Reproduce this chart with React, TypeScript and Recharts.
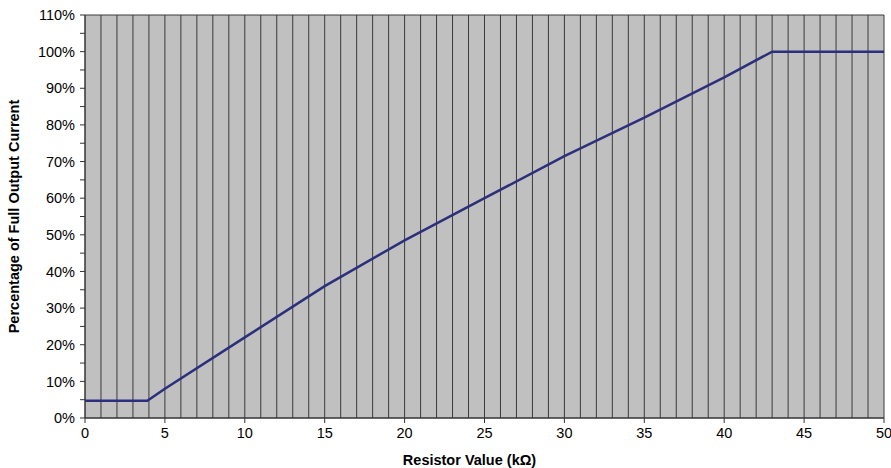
import { LineChart, Line, XAxis, YAxis, CartesianGrid } from "recharts";

// resistor value (kΩ) vs percentage of full output current
const resistance = [0, 3.9, 5, 10, 15, 20, 25, 30, 35, 40, 43, 50];
const currentPct = [4.7, 4.7, 8, 22, 36, 48.5, 60, 71.5, 82, 93, 100, 100];

const xTicks = [0, 5, 10, 15, 20, 25, 30, 35, 40, 45, 50];
const xGridTicks = Array.from({ length: 51 }, (_, i) => i);
const yTicks = [0, 5, 10, 15, 20, 25, 30, 35, 40, 45, 50, 55, 60, 65, 70, 75, 80, 85, 90, 95, 100, 105, 110];
const yGridTicks = [0, 10, 20, 30, 40, 50, 60, 70, 80, 90, 100, 110];

const data = resistance.map((r, i) => ({ r, pct: currentPct[i] }));

const font = "'Liberation Sans', Arial, sans-serif";

export default function App() {
  return (
    <div style={{ position: "absolute", left: 0, top: 0, fontFamily: font }}>
      <LineChart width={891} height={468} data={data} margin={{ top: 15, right: 7, bottom: 0, left: 0 }}>
        <CartesianGrid
          xAxisId="grid"
          yAxisId="grid"
          fill="#c0c0c0"
          stroke="#3a3a3a"
          strokeWidth={1}
          fillOpacity={1}
        />
        <XAxis
          dataKey="r"
          type="number"
          domain={[0, 50]}
          ticks={xTicks}
          interval={0}
          height={50}
          stroke="#333"
          tickSize={5}
          tick={{ fill: "#000", fontSize: 14.5, fontFamily: font }}
          tickMargin={5}
          label={{ value: "Resistor Value (kΩ)", position: "insideBottom", offset: 3, dx: -15, fill: "#000", fontSize: 14.5, fontWeight: "bold", fontFamily: font }}
        />
        <XAxis xAxisId="grid" dataKey="r" type="number" domain={[0, 50]} ticks={xGridTicks} interval={0} hide />
        <YAxis
          type="number"
          domain={[0, 110]}
          ticks={yTicks}
          interval={0}
          width={85}
          stroke="#333"
          tickSize={5}
          tickMargin={5}
          tick={{ fill: "#000", fontSize: 14.5, fontFamily: font }}
          tickFormatter={(v: number) => (v % 10 === 0 ? `${v}%` : "")}
          label={{ value: "Percentage of Full Output Current", angle: -90, position: "insideLeft", offset: 14, style: { textAnchor: "middle" }, fill: "#000", fontSize: 14.5, fontWeight: "bold", fontFamily: font }}
        />
        <YAxis yAxisId="grid" type="number" domain={[0, 110]} ticks={yGridTicks} interval={0} hide />
        <Line
          type="linear"
          dataKey="pct"
          stroke="#2b2f7c"
          strokeWidth={2.5}
          dot={false}
          isAnimationActive={false}
        />
      </LineChart>
    </div>
  );
}
